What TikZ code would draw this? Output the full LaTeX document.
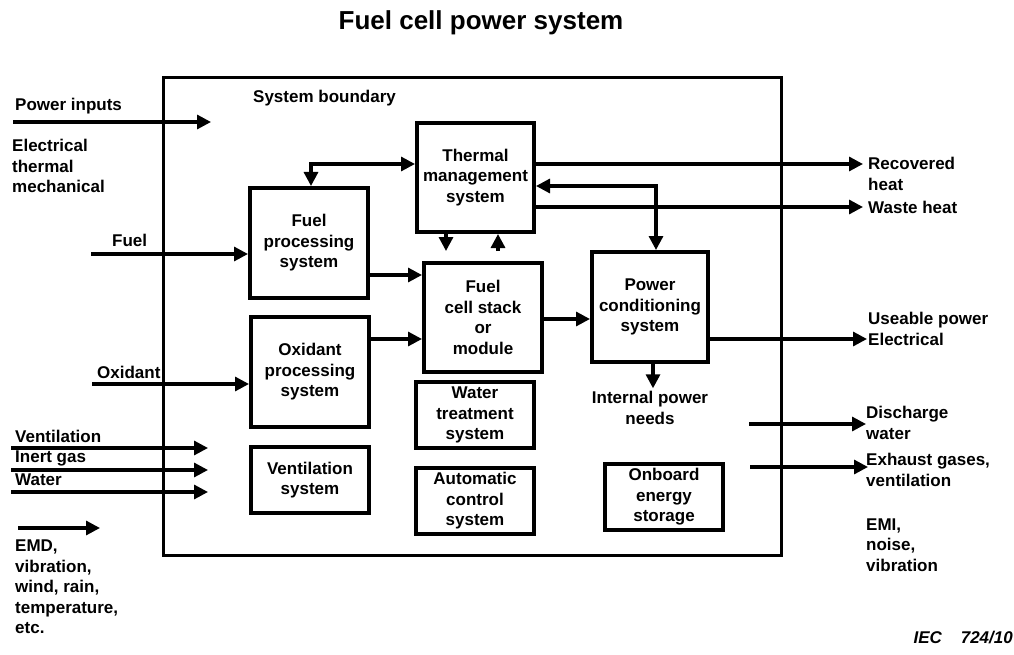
\documentclass[tikz,border=0pt]{standalone}
\usepackage{fontspec}
\setmainfont{Liberation Sans}
\usetikzlibrary{arrows.meta}
\begin{document}
\begin{tikzpicture}[x=1pt,y=-1pt,>={Triangle[length=14pt,width=14pt]},
    font=\fontsize{17}{20.5}\selectfont\bfseries,
    box/.style={draw,line width=4pt,minimum width=118pt,minimum height=110pt,inner sep=0pt,align=center},
    flat/.style={box,minimum height=66pt},
    flow/.style={line width=3.2pt},
    lbl/.style={anchor=west,inner sep=0pt,align=left}]
    \useasboundingbox (0,0) rectangle (1014,655);
    % title and system boundary
    \node[font=\fontsize{26}{30}\selectfont\bfseries] (title) at (481,23) {Fuel cell power system};
    \draw[line width=3pt] (163,78) rectangle (781,555);
    \node[lbl] (bnd) at (253,98) {System boundary};
    % subsystems
    \node[box] (fuelproc) at (309,243) {Fuel\\processing\\system};
    \node[box,minimum width=117pt,minimum height=109pt] (thermal) at (475.5,177.5) {Thermal\\management\\system};
    \node[box,minimum height=109pt] (stack) at (483,317.5) {Fuel\\cell stack\\or\\module};
    \node[box,minimum width=116pt] (power) at (650,307) {Power\\conditioning\\system};
    \node[box] (oxproc) at (310,372) {Oxidant\\processing\\system};
    \node[flat] (vent) at (310,480) {Ventilation\\system};
    \node[flat] (water) at (475,415) {Water\\treatment\\system};
    \node[flat] (control) at (475,501) {Automatic\\control\\system};
    \node[flat] (onboard) at (664,497) {Onboard\\energy\\storage};
    \node[align=center,inner sep=3pt] (internal) at (650,408) {Internal power\\needs};
    % inputs
    \node[lbl] (pwin) at (15,106) {Power inputs};
    \coordinate (pw0) at (13,122);
    \coordinate (pw1) at (211,122);
    \draw[flow,->] (pw0) -- (pw1);
    \node[lbl] (pwkind) at (12,166) {Electrical\\thermal\\mechanical};
    \node[lbl] (fuel) at (112,240) {Fuel};
    \coordinate (fu0) at (91,254);
    \draw[flow,->] (fu0) -- (fu0 -| fuelproc.west);
    \node[lbl] (oxid) at (97,372) {Oxidant};
    \coordinate (ox0) at (92,384);
    \draw[flow,->] (ox0) -- (ox0 -| oxproc.west);
    \foreach \y/\txt [count=\i] in {448/Ventilation,470/Inert gas,492/Water}{
        \node[lbl] (in\i) at (15,\y-12) {\txt};
        \coordinate (ina\i) at (11,\y);
        \coordinate (inb\i) at (208,\y);
        \draw[flow,->] (ina\i) -- (inb\i);
    }
    \coordinate (env0) at (18,528);
    \coordinate (env1) at (100,528);
    \draw[flow,->] (env0) -- (env1);
    \node[lbl] (env) at (15,587) {EMD,\\vibration,\\wind, rain,\\temperature,\\etc.};
    % internal flows
    \draw[flow,->] (fuelproc.east |- 0,275) -- (stack.west |- 0,275);
    \draw[flow,->] (oxproc.east |- 0,339) -- (stack.west |- 0,339);
    \draw[flow,->] (stack.east |- 0,319) -- (power.west |- 0,319);
    \draw[flow,<->] (fuelproc.north -| 311,0) |- (thermal.west |- 0,164);
    \draw[flow,->,shorten >=10pt] (thermal.south -| 446,0) -- (stack.north -| 446,0);
    \draw[flow,->,shorten <=10pt] (stack.north -| 498,0) -- (thermal.south -| 498,0);
    \coordinate (fb) at (656,186);
    \draw[flow,<->] (thermal.east |- fb) -- (fb) -- (fb |- power.north);
    \draw[flow,->] (power.south -| 653,0) -- (internal.north -| 653,0);
    % outputs
    \coordinate (rec) at (863,164);
    \coordinate (waste) at (863,207);
    \coordinate (use) at (867,339);
    \draw[flow,->] (thermal.east |- rec) -- (rec);
    \draw[flow,->] (thermal.east |- waste) -- (waste);
    \draw[flow,->] (power.east |- use) -- (use);
    \coordinate (dis0) at (749,424);
    \coordinate (dis1) at (866,424);
    \draw[flow,->] (dis0) -- (dis1);
    \coordinate (exh0) at (750,467);
    \coordinate (exh1) at (868,467);
    \draw[flow,->] (exh0) -- (exh1);
    \node[lbl] (recl) at (868,174) {Recovered\\heat};
    \node[lbl] (wastel) at (868,207) {Waste heat};
    \node[lbl] (usel) at (868,329) {Useable power\\Electrical};
    \node[lbl] (disl) at (866,423) {Discharge\\water};
    \node[lbl] (exhl) at (866,470) {Exhaust gases,\\ventilation};
    \node[lbl] (emil) at (866,545) {EMI,\\noise,\\vibration};
    \node[anchor=east,inner sep=0pt,font=\fontsize{17}{20.5}\selectfont\bfseries\itshape] (iec) at (1013,638) {IEC\ \ \ \ 724/10};
\end{tikzpicture}
\end{document}
